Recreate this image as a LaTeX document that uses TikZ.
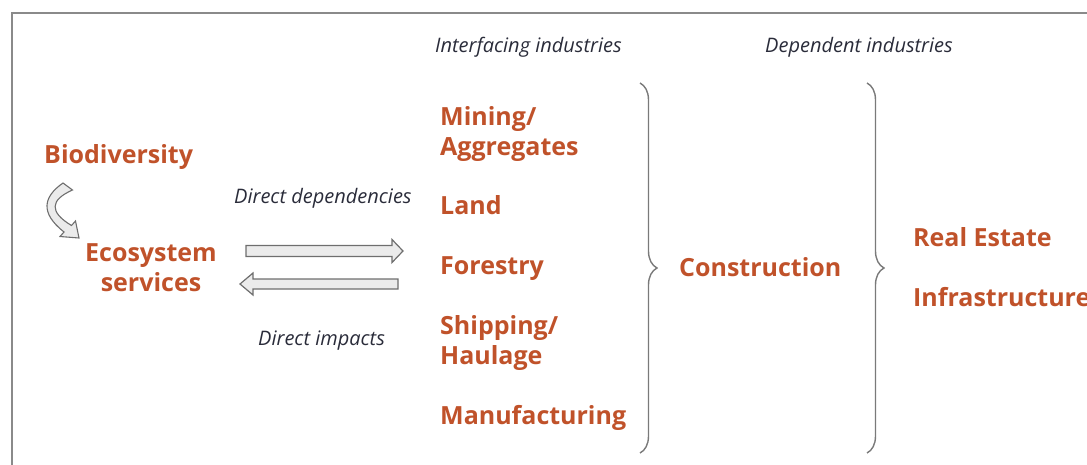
\documentclass[tikz,border=0pt]{standalone}
\usepackage{fontspec}
\setmainfont{Open Sans}
\usetikzlibrary{decorations.pathreplacing,calc}
\definecolor{ochre}{HTML}{C0522A}
\definecolor{labelc}{HTML}{2A2C3A}
\definecolor{framec}{HTML}{8A8A8A}
\definecolor{bracec}{HTML}{7A7A7A}
\definecolor{arrowfill}{HTML}{EBEBEB}
\definecolor{arrowline}{HTML}{6E6E6E}
\begin{document}
\begin{tikzpicture}[x=1pt,y=-1pt,
  sector/.style={inner sep=0pt,anchor=base west,text=ochre,font=\fontsize{25}{30}\selectfont\bfseries,align=left},
  tag/.style={inner sep=0pt,anchor=base west,text=labelc,font=\fontsize{20}{24}\selectfont\itshape},
  hollow/.style={fill=arrowfill,draw=arrowline,line width=1.2pt,line join=miter},
  bracestyle/.style={draw=bracec,line width=1.4pt,decorate,decoration={brace,amplitude=17pt}}]
\useasboundingbox (0,0) rectangle (1087,464);
\begin{scope}
\clip (0,0) rectangle (1087,464);
\draw[framec,line width=1.5pt] (12,13) rectangle (1100,480);
\end{scope}
% labels
\node[tag] (lint) at (435,52) {Interfacing industries};
\node[tag] (ldep) at (765,52) {Dependent industries};
\node[tag] (ldd) at (234,203) {Direct dependencies};
\node[tag] (ldi) at (258,345) {Direct impacts};
% left side
\node[sector] (bio) at (44,163) {Biodiversity};
\node[sector,align=center,anchor=center] (eco) at (151,268) {Ecosystem\\services};
% interfacing
\node[sector] (mining) at (440,155) {Mining/\\Aggregates};
\node[sector] (land) at (440,214) {Land};
\node[sector] (forest) at (440,274) {Forestry};
\node[sector] (ship) at (440,364) {Shipping/\\Haulage};
\node[sector] (manu) at (440,424) {Manufacturing};
% construction
\node[sector] (cons) at (679,276) {Construction};
% dependent
\node[sector] (real) at (913,246) {Real Estate};
\node[sector] (infra) at (913,306) {Infrastructure};
% braces
\coordinate (b1t) at (640,83);
\coordinate (b1b) at (640,453);
\coordinate (b2t) at (867,83);
\coordinate (b2b) at (867,453);
\draw[bracestyle] (b1t) -- (b1b);
\draw[bracestyle] (b2t) -- (b2b);
% hollow arrows
\coordinate (r0) at (246,251);
\coordinate (r1) at (403,251);
\draw[hollow] ($(r0)+(0,-5.5)$) -- (392,245.5) -- (392,239.5) -- (r1) -- (392,262.5) -- (392,256.5) -- ($(r0)+(0,5.5)$) -- cycle;
\coordinate (l0) at (398,284);
\coordinate (l1) at (240,284);
\draw[hollow] ($(l0)+(0,-5)$) -- (253,279) -- (253,273) -- (l1) -- (253,295) -- (253,289) -- ($(l0)+(0,5)$) -- cycle;
% curved arrow
\draw[hollow,line width=1.1pt] (63,183) .. controls (43,197) and (40,213) .. (64,232) -- (60,236.5) -- (79,238) -- (75.5,221) -- (71.5,225.5) .. controls (49,212) and (50,200) .. (72.5,190) -- cycle;
\end{tikzpicture}
\end{document}
